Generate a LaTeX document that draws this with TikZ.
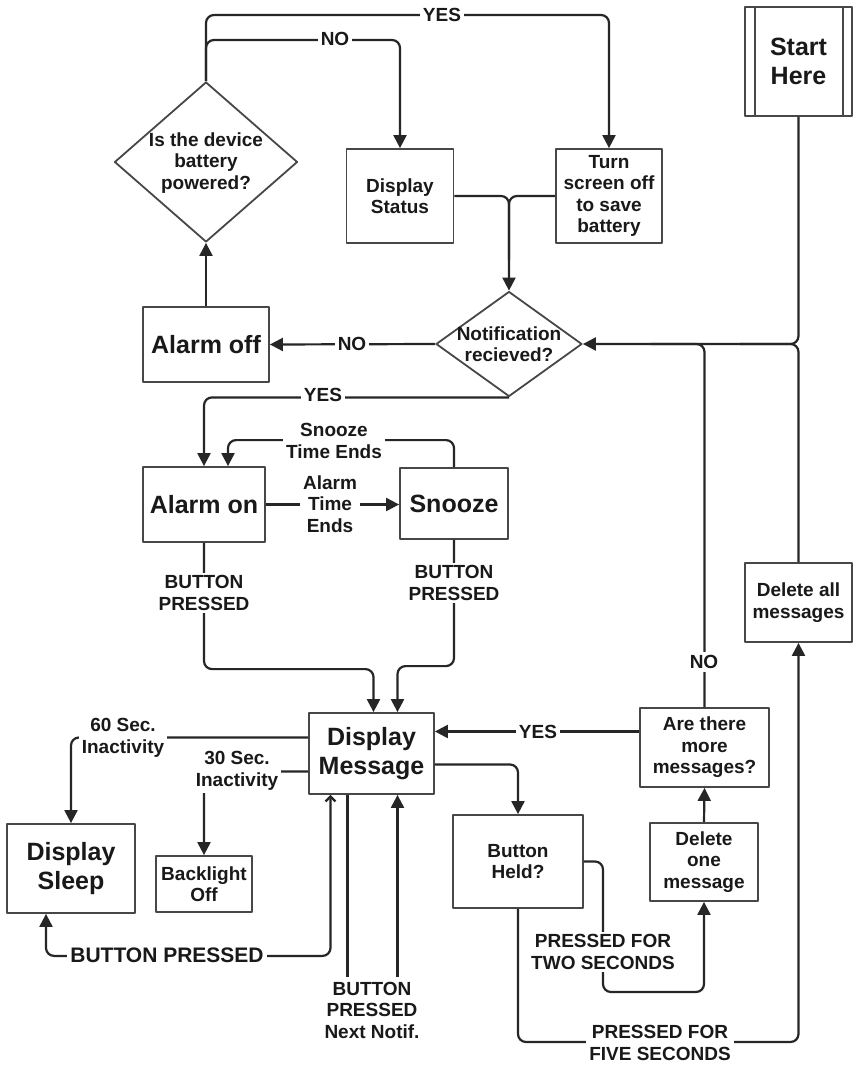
\documentclass[tikz,border=0pt]{standalone}
\usepackage{fontspec}
\setmainfont{Liberation Sans}
\usetikzlibrary{arrows.meta,shapes.geometric,calc}
\newcommand\fmid{\fontsize{19}{21.5}\selectfont\bfseries}
\newcommand\fbig{\fontsize{25}{28.5}\selectfont\bfseries}
\newcommand\fbp{\fontsize{21}{24}\selectfont\bfseries}
\begin{document}
\begin{tikzpicture}[x=1pt,y=-1pt,line join=round,
  conn/.style={line width=2.2pt, draw=black!85, rounded corners=8pt},
  arr/.style={conn, -{Triangle[length=13pt,width=13pt]}},
  box/.style={draw=black!72, line width=1.8pt, fill=white, align=center, inner sep=0pt, text=black!90},
  dia/.style={diamond, draw=black!72, line width=1.8pt, fill=white, inner sep=0pt},
  lbl/.style={fill=white, align=center, inner sep=3pt, text=black!90, font=\fmid},
  txt/.style={align=center, inner sep=0pt, text=black!90, font=\fmid}]
\useasboundingbox[fill=white] (0,0) rectangle (853,1082);

% nodes
\node[dia, minimum width=183pt, minimum height=160pt] (bat) at (206,162) {};
\node[txt] (battxt) at (206,163) {Is the device\\battery\\powered?};
\node[box, minimum width=107pt, minimum height=94pt, font=\fmid] (dstat) at (400,196) {Display\\Status};
\node[box, minimum width=106pt, minimum height=94pt, font=\fmid] (tsoff) at (609,196) {Turn\\screen off\\to save\\battery};
\node[box, minimum width=107pt, minimum height=109pt, font=\fbig] (start) at (798.5,61.5) {Start\\Here};
\draw[draw=black!72, line width=1.8pt] ($(start.north west)+(11,0)$) -- ($(start.south west)+(11,0)$);
\draw[draw=black!72, line width=1.8pt] ($(start.north east)+(-10,0)$) -- ($(start.south east)+(-10,0)$);
\node[dia, minimum width=146pt, minimum height=105pt] (notif) at (509,344) {};
\node[txt] (notiftxt) at (509,344) {Notification\\recieved?};
\node[box, minimum width=126pt, minimum height=75pt, font=\fbig] (aoff) at (206,344.5) {Alarm off};
\node[box, minimum width=122pt, minimum height=75pt, font=\fbig] (aon) at (204,504.5) {Alarm on};
\node[box, minimum width=108pt, minimum height=71pt, font=\fbig] (snz) at (454,503.5) {Snooze};
\node[box, minimum width=125pt, minimum height=81pt, font=\fbig] (dm) at (371.5,753.5) {Display\\Message};
\node[box, minimum width=128pt, minimum height=89pt, font=\fbig] (dsl) at (71,868.5) {Display\\Sleep};
\node[box, minimum width=96pt, minimum height=56pt, font=\fmid] (blo) at (204,884) {Backlight\\Off};
\node[box, minimum width=130pt, minimum height=93pt, font=\fmid] (bh) at (518,861.5) {Button\\Held?};
\node[box, minimum width=129pt, minimum height=79pt, font=\fmid] (more) at (704.5,747.5) {Are there\\more\\messages?};
\node[box, minimum width=108pt, minimum height=78pt, font=\fmid] (del1) at (704,862) {Delete\\one\\message};
\node[box, minimum width=107pt, minimum height=79pt, font=\fmid] (delall) at (798.5,602.5) {Delete all\\messages};

% helper coordinates
\coordinate (ytop) at (0,15);
\coordinate (yno) at (0,40);
\coordinate (j1) at (740,344);
\coordinate (j2) at (650,344);
\coordinate (yesm) at ($(more.west)+(0,-16)$);
\coordinate (b5) at (0,1042);

% connectors
\draw[arr] (bat.north) |- (ytop -| tsoff.north) -- (tsoff.north);
\draw[arr] (bat.north) |- (yno -| dstat.north) -- (dstat.north);
\draw[arr] (dstat.east) -| (notif.north);
\draw[conn] (tsoff.west) -| (509,260);
\draw[arr] (start.south) |- (notif.east);
\draw[conn] (delall.north) |- (j1);
\draw[conn] (more.north) |- (j2);
\draw[arr] (notif.west) -- (aoff.east);
\draw[arr] (aoff.north) -- (bat.south);
\draw[arr] (notif.south) -| (aon.north);
\draw[arr] (snz.north) |- ($(aon.north)+(24,-26)$) -- ($(aon.north)+(24,0)$);
\draw[arr] (aon.east) -- (aon.east -| snz.west);
\draw[arr] (aon.south) |- ($(dm.north)+(2,-43)$) -- ($(dm.north)+(2,0)$);
\draw[arr] (snz.south) |- ($(dm.north)+(26,-46)$) -- ($(dm.north)+(26,0)$);
\draw[arr] ($(dm.west)+(0,-16)$) -| (dsl.north);
\draw[arr] ($(dm.west)+(0,18)$) -| (blo.north);
\draw[conn, {Triangle[length=13pt,width=13pt]}-{Straight Barb[length=5pt,width=10pt]}]
  ($(dsl.south)+(-25,0)$) |- ($(dm.south)+(-41,161)$) -- ($(dm.south)+(-41,0)$);
\draw[conn] ($(dm.south)+(-24,0)$) -- (347.5,977);
\draw[arr] (397.5,977) -- ($(dm.south)+(26,0)$);
\draw[arr] ($(dm.east)+(0,11)$) -| (bh.north);
\draw[arr] (yesm) -- (yesm -| dm.east);
\draw[arr] (del1.north) -- (more.south);
\draw[arr] (bh.east) -| (603,992) -| (del1.south);
\draw[arr] (bh.south) |- (b5 -| delall.south) -- (delall.south);

% labels
\node[lbl] (lyes1) at (442,15) {YES};
\node[lbl] (lno1) at (335,39) {NO};
\node[lbl] (lno2) at (352,344) {NO};
\node[lbl] (lyes2) at (323,395) {YES};
\node[lbl] (lste) at (334,441) {Snooze\\Time Ends};
\node[lbl] (late) at (330,504) {Alarm\\Time\\Ends};
\node[lbl] (lbp1) at (204,593) {BUTTON\\PRESSED};
\node[lbl] (lbp2) at (454,583) {BUTTON\\PRESSED};
\node[lbl] (l60) at (123,738) {60 Sec.\\Inactivity};
\node[lbl] (l30) at (237,771) {30 Sec.\\Inactivity};
\node[lbl, font=\fbp] (lbp3) at (167,955) {BUTTON PRESSED};
\node[lbl] (lnn) at (372,1010) {BUTTON\\PRESSED\\Next Notif.};
\node[lbl] (lyes3) at (538,732) {YES};
\node[lbl] (lno3) at (704,662) {NO};
\node[lbl] (l2s) at (603,952) {PRESSED FOR\\TWO SECONDS};
\node[lbl] (l5s) at (660,1043) {PRESSED FOR\\FIVE SECONDS};
\end{tikzpicture}
\end{document}
